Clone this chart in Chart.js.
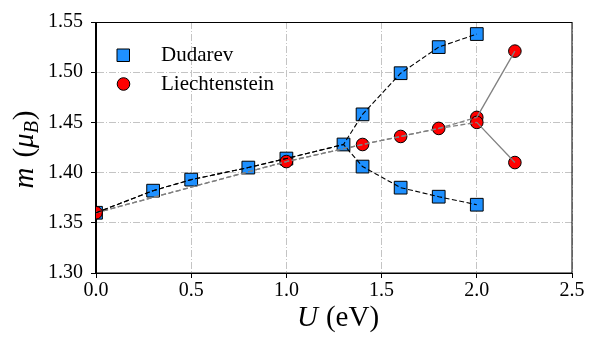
<!DOCTYPE html>
<html>
<head>
<meta charset="utf-8">
<script src="https://cdn.jsdelivr.net/npm/chart.js@4.4.0/dist/chart.umd.min.js"></script>
<style>
    html, body { margin: 0; padding: 0; background: #fff; }
</style>
</head>
<body>
<canvas id="magneticMomentChart" width="600" height="350"></canvas>
<script>
// values
const dudarevSharedU = [0.0, 0.3, 0.5, 0.8, 1.0, 1.3];
const dudarevSharedM = [1.360, 1.382, 1.393, 1.405, 1.414, 1.428];
const dudarevBranchU = [1.4, 1.6, 1.8, 2.0];
const dudarevUpperM = [1.458, 1.499, 1.525, 1.538];
const dudarevLowerM = [1.406, 1.385, 1.376, 1.368];

const liechSharedU = [0.0, 1.0, 1.4, 1.6, 1.8];
const liechSharedM = [1.360, 1.411, 1.428, 1.436, 1.444];
const liechBranchU = [2.0, 2.2];
const liechUpperM = [1.455, 1.521];
const liechLowerM = [1.450, 1.410];

const xTicks = [0.0, 0.5, 1.0, 1.5, 2.0, 2.5];
const yTicks = [1.30, 1.35, 1.40, 1.45, 1.50, 1.55];

const serif = '"Liberation Serif", "DejaVu Serif", serif';

function toPoints(xs, ys) {
    return xs.map((x, i) => ({x: x, y: ys[i]}));
}

const dudarevUpperPath = toPoints(dudarevSharedU.concat(dudarevBranchU), dudarevSharedM.concat(dudarevUpperM));
const dudarevLowerPath = toPoints(dudarevSharedU.concat(dudarevBranchU), dudarevSharedM.concat(dudarevLowerM));
const liechUpperPath = toPoints(liechSharedU.concat(liechBranchU), liechSharedM.concat(liechUpperM));
const liechLowerPath = toPoints(liechSharedU.concat(liechBranchU), liechSharedM.concat(liechLowerM));

const dudarevMarkers = toPoints(dudarevSharedU, dudarevSharedM)
    .concat(toPoints(dudarevBranchU, dudarevUpperM))
    .concat(toPoints(dudarevBranchU, dudarevLowerM));
const liechMarkers = toPoints(liechSharedU, liechSharedM)
    .concat(toPoints(liechBranchU, liechUpperM))
    .concat(toPoints(liechBranchU, liechLowerM));

function pathDataset(data, color) {
    return {
        data: data,
        showLine: true,
        borderColor: color,
        borderWidth: 1.1,
        borderDash: [5, 2.5],
        pointRadius: 0,
        pointHoverRadius: 0,
        fill: false,
        tension: 0
    };
}

// the Liechtenstein branches after U = 2.0 are solid
function liechPath(data) {
    let ds = pathDataset(data, '#808080');
    ds.borderWidth = 1.3;
    ds.segment = {
        borderDash: ctx => ctx.p0.parsed.x >= 1.99 ? [] : [5, 2.5]
    };
    return ds;
}

function markerDataset(data, style, radius, color) {
    return {
        data: data,
        showLine: false,
        pointStyle: style,
        pointRadius: radius,
        pointHoverRadius: radius,
        backgroundColor: color,
        pointBackgroundColor: color,
        pointBorderColor: '#000',
        pointBorderWidth: 1,
        clip: 0
    };
}

// frame on all four sides, like the matplotlib axes box
const frameBox = {
    id: 'frameBox',
    afterDraw(chart) {
        const {ctx, chartArea} = chart;
        ctx.save();
        ctx.strokeStyle = '#000';
        ctx.lineWidth = 1;
        ctx.strokeRect(Math.round(chartArea.left) - 0.5, Math.round(chartArea.top) + 0.5,
            Math.round(chartArea.right - chartArea.left) + 0.5, Math.round(chartArea.bottom - chartArea.top) - 0.5);
        ctx.restore();
    }
};

function drawParts(ctx, parts, cx, baseline) {
    let total = 0;
    parts.forEach(p => {
        ctx.font = p.font;
        p.w = ctx.measureText(p.text).width + (p.gap || 0);
        total += p.w;
    });
    let x = cx - total / 2;
    parts.forEach(p => {
        ctx.font = p.font;
        ctx.fillText(p.text, x, baseline + (p.dy || 0));
        x += p.w;
    });
}

const axisTitles = {
    id: 'axisTitles',
    afterDraw(chart) {
        const {ctx, chartArea} = chart;
        const cx = (chartArea.left + chartArea.right) / 2;
        const cy = (chartArea.top + chartArea.bottom) / 2;
        ctx.save();
        ctx.fillStyle = '#000';
        ctx.textBaseline = 'alphabetic';
        ctx.textAlign = 'left';
        drawParts(ctx, [
            {text: 'U', font: 'italic 29px ' + serif, gap: 8},
            {text: '(eV)', font: '29px ' + serif}
        ], cx + 4, 326);

        ctx.translate(33, cy + 2);
        ctx.rotate(-Math.PI / 2);
        drawParts(ctx, [
            {text: 'm', font: 'italic 29px ' + serif, gap: 10},
            {text: '(', font: '29px ' + serif},
            {text: 'μ', font: 'italic 29px ' + serif},
            {text: 'B', font: 'italic 20px ' + serif, dy: 5, gap: 1},
            {text: ')', font: '29px ' + serif}
        ], 0, 0);
        ctx.restore();
    }
};

const markerLegend = {
    id: 'markerLegend',
    afterDraw(chart) {
        const ctx = chart.ctx;
        ctx.save();
        ctx.lineWidth = 1;
        ctx.strokeStyle = '#000';

        ctx.fillStyle = '#1e90ff';
        ctx.beginPath();
        ctx.rect(117, 49, 12.5, 12.5);
        ctx.fill();
        ctx.stroke();

        ctx.fillStyle = '#ff0000';
        ctx.beginPath();
        ctx.arc(123.5, 84, 6.3, 0, Math.PI * 2);
        ctx.fill();
        ctx.stroke();

        ctx.fillStyle = '#000';
        ctx.font = '21px ' + serif;
        ctx.textBaseline = 'middle';
        ctx.fillText('Dudarev', 161, 55);
        ctx.fillText('Liechtenstein', 161, 84);
        ctx.restore();
    }
};

function axisOptions(min, max, ticks, digits, fit) {
    return {
        type: 'linear',
        min: min,
        max: max,
        afterBuildTicks: scale => {
            scale.ticks = ticks.map(v => ({value: v}));
        },
        afterFit: fit,
        ticks: {
            color: '#000',
            font: {family: serif, size: 20},
            callback: v => Number(v).toFixed(digits)
        },
        grid: {
            color: '#c4c4c4',
            lineWidth: 1,
            tickColor: '#000',
            tickLength: 5,
            tickWidth: 1,
            tickBorderDash: []
        },
        border: {
            display: true,
            color: '#000',
            width: 1,
            dash: [7, 2, 1, 2]
        }
    };
}

let xAxis = axisOptions(0, 2.5, xTicks, 1, scale => { scale.height = 77; });
xAxis.ticks.padding = 1;
let yAxis = axisOptions(1.30, 1.55, yTicks, 2, scale => { scale.width = 96; });
yAxis.ticks.padding = 8;

const ctx = document.getElementById('magneticMomentChart');
new Chart(ctx, {
    type: 'scatter',
    data: {
        datasets: [
            pathDataset(dudarevUpperPath, '#000'),
            pathDataset(dudarevLowerPath, '#000'),
            liechPath(liechUpperPath),
            liechPath(liechLowerPath),
            markerDataset(liechMarkers, 'circle', 6.3, '#ff0000'),
            markerDataset(dudarevMarkers, 'rect', 9, '#1e90ff')
        ]
    },
    options: {
        responsive: false,
        animation: false,
        devicePixelRatio: 1,
        layout: {
            padding: {left: 0, right: 28, top: 22, bottom: 0}
        },
        scales: {
            x: xAxis,
            y: yAxis
        },
        plugins: {
            legend: {display: false},
            tooltip: {enabled: false}
        }
    },
    plugins: [frameBox, axisTitles, markerLegend]
});
</script>
</body>
</html>
